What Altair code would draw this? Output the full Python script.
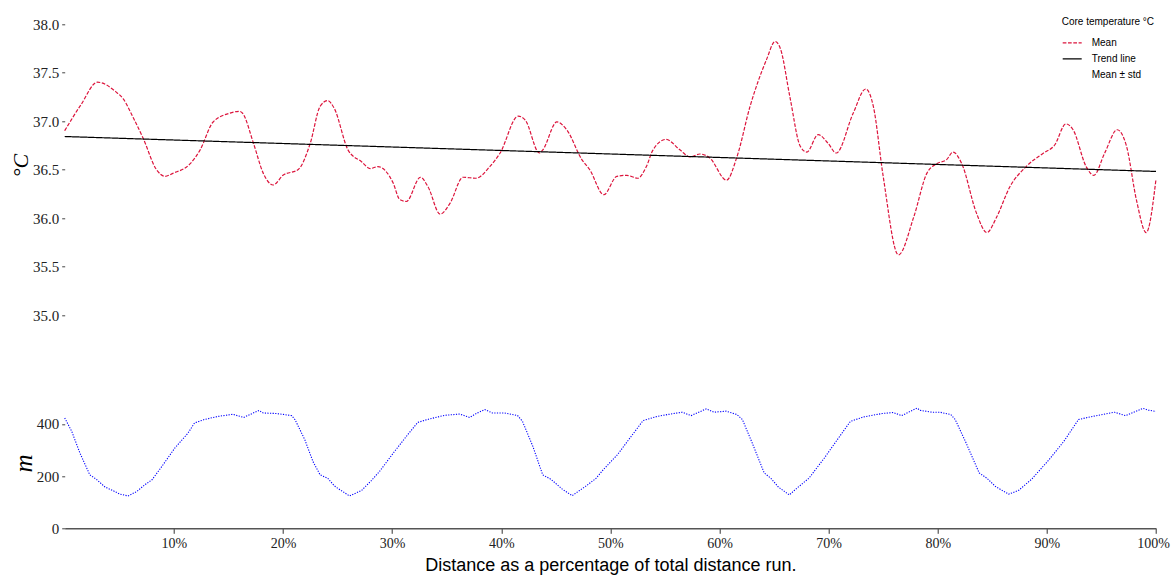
import altair as alt
import pandas as pd

# ---- data ----
series = ["Mean", "Trend line", "Mean ± std"]

pct_mean = [0.0, 1.5, 3.0, 4.7, 5.35, 6.3, 7.2, 8.4, 9.2, 9.9, 11.5, 12.4, 13.6, 15.1, 16.0, 16.3,
            17.3, 18.2, 19.1, 20.0, 21.4, 22.5, 23.4, 24.1, 24.7, 25.97, 27.2, 28.0, 28.7, 30.1,
            30.7, 31.3, 32.6, 33.3, 34.4, 35.3, 36.5, 37.7, 38.95, 39.9, 41.55, 42.2, 43.5, 43.8,
            45.1, 46.0, 47.4, 48.1, 49.4, 50.6, 51.5, 52.5, 53.3, 53.9, 55.1, 56.4, 57.3, 58.2,
            59.1, 60.65, 61.6, 62.8, 64.3, 65.1, 65.6, 66.45, 67.4, 68.0, 69.05, 69.95, 70.7,
            72.25, 73.4, 74.1, 75.0, 76.4, 77.8, 79.0, 79.9, 80.8, 81.4, 82.2, 83.55, 84.5, 85.4,
            86.6, 88.1, 89.7, 90.7, 91.75, 92.4, 93.6, 94.3, 95.3, 96.45, 97.3, 98.2, 99.1, 100.0]
temp_mean = [36.90, 37.17, 37.40, 37.30, 37.23, 37.03, 36.82, 36.50, 36.43, 36.46, 36.56, 36.70,
             36.99, 37.08, 37.10, 37.08, 36.77, 36.46, 36.34, 36.44, 36.50, 36.77, 37.15, 37.21,
             37.13, 36.70, 36.58, 36.51, 36.53, 36.36, 36.19, 36.17, 36.42, 36.32, 36.04, 36.15,
             36.42, 36.41, 36.53, 36.67, 37.05, 37.01, 36.67, 36.70, 36.99, 36.91, 36.60, 36.50,
             36.24, 36.43, 36.44, 36.41, 36.53, 36.70, 36.81, 36.70, 36.63, 36.66, 36.62, 36.39,
             36.63, 37.15, 37.63, 37.82, 37.74, 37.25, 36.74, 36.68, 36.86, 36.77, 36.67, 37.08,
             37.33, 37.15, 36.43, 35.62, 36.01, 36.46, 36.56, 36.60, 36.68, 36.56, 36.05, 35.85,
             36.01, 36.32, 36.53, 36.67, 36.75, 36.97, 36.91, 36.53, 36.44, 36.67, 36.91, 36.74,
             36.19, 35.85, 36.40]

trend_pct = [0.0, 100.0]
trend_temp = [36.84, 36.48]

pct_dist = [0.0, 0.64, 1.4, 2.3, 2.9, 3.7, 4.3, 5.06, 5.8, 6.6, 7.35, 8.0, 8.9, 10.1, 11.3, 11.9,
            12.8, 14.05, 15.4, 16.4, 17.8, 18.2, 19.4, 20.8, 21.1, 22.0, 22.75, 23.4, 24.1, 24.7,
            25.0, 26.1, 27.2, 28.1, 28.85, 30.1, 31.3, 32.35, 33.4, 34.8, 36.2, 37.1, 37.8, 38.5,
            39.2, 40.3, 41.5, 41.95, 42.9, 43.8, 44.55, 45.6, 46.5, 47.8, 48.7, 49.4, 50.65, 51.9,
            53.0, 54.3, 55.5, 56.6, 57.4, 58.1, 58.8, 59.5, 60.6, 61.6, 62.1, 63.0, 64.1, 64.7,
            65.4, 66.4, 67.1, 68.2, 69.6, 70.8, 72.0, 73.2, 74.9, 75.9, 76.7, 78.1, 78.4, 79.5,
            80.2, 81.2, 81.6, 82.6, 83.8, 84.5, 85.3, 86.5, 87.4, 88.6, 90.2, 91.55, 92.9, 94.3,
            96.2, 97.2, 98.8, 99.3, 100.0]
dist_m = [423, 372, 288, 205, 188, 158, 147, 131, 124, 141, 167, 186, 237, 308, 365, 404,
          417, 429, 437, 425, 452, 442, 440, 432, 417, 340, 256, 205, 192, 163,
          154, 124, 145, 183, 218, 288, 352, 406, 419, 433, 438, 425, 442, 455,
          442, 442, 432, 410, 314, 205, 188, 150, 125, 163, 192, 227, 282, 352,
          413, 429, 438, 445, 432, 445, 458, 445, 449, 436, 417, 327, 212, 192,
          158, 128, 154, 192, 269, 340, 410, 427, 440, 444, 432, 461, 452, 445,
          445, 436, 417, 327, 212, 192, 160, 131, 145, 188, 263, 333, 417, 430,
          445, 432, 460, 453, 448]

x_ticks = [10, 20, 30, 40, 50, 60, 70, 80, 90, 100]
temp_ticks = [35.0, 35.5, 36.0, 36.5, 37.0, 37.5, 38.0]
dist_ticks = [0, 200, 400]

temp_df = pd.concat([
    pd.DataFrame({"pct": pct_mean, "temp": temp_mean, "series": "Mean"}),
    pd.DataFrame({"pct": trend_pct, "temp": trend_temp, "series": "Trend line"}),
], ignore_index=True)
dist_df = pd.DataFrame({"pct": pct_dist, "m": dist_m})

# ---- layout ----
W = 1091.3
H = 514
SERIF = "Liberation Serif"
SANS = "Liberation Sans"

x_scale = alt.Scale(domain=[0, 100], nice=False, zero=False)
x_axis = alt.Axis(values=x_ticks, labelExpr="datum.value + '%'", labelFont=SERIF,
                  labelFontSize=14, labelColor="#222", labelFlush=False, labelPadding=3,
                  labelOffset={"condition": {"test": "datum.value == 100", "value": -3},
                               "value": 0},
                  tickSize=5, tickColor="#333", tickWidth=1, domainColor="#555",
                  domainWidth=1.5, grid=False,
                  title="Distance as a percentage of total distance run.",
                  titleFont=SANS, titleFontSize=18, titleFontWeight="normal",
                  titleColor="#000", titlePadding=6)

legend = alt.Legend(orient="none", legendX=997, legendY=3, title="Core temperature °C",
                    titleFont=SANS, titleFontSize=10, titleFontWeight="normal",
                    titleColor="#000", titlePadding=5, labelFont=SANS, labelFontSize=10,
                    labelColor="#000", labelOffset=9, symbolType="stroke", symbolSize=361,
                    symbolStrokeWidth=1.2, rowPadding=0, padding=0)

temp_lines = alt.Chart(temp_df).mark_line(interpolate="monotone", strokeWidth=1.2).encode(
    x=alt.X("pct:Q", scale=x_scale, axis=x_axis),
    y=alt.Y("temp:Q",
            scale=alt.Scale(domain=[35, 38.1], range=[300.7, 0], nice=False, zero=False),
            axis=alt.Axis(values=temp_ticks, format=".1f", orient="left", labelFont=SERIF,
                          labelFontSize=15, labelColor="#222", labelPadding=3, tickSize=3,
                          tickColor="#444", domain=False, grid=False, title="°C",
                          titleFont=SERIF, titleFontSize=22, titleFontStyle="italic",
                          titleFontWeight="normal", titleColor="#000",
                          titleX=-37, titleY=150.7, titleBaseline="alphabetic")),
    color=alt.Color("series:N",
                    scale=alt.Scale(domain=series, range=["crimson", "black", "rgba(0,0,0,0)"]),
                    legend=legend),
    strokeDash=alt.StrokeDash("series:N",
                              scale=alt.Scale(domain=series, range=[[3.7, 1.6], [1, 0], [1, 0]]),
                              legend=legend),
)

dist_line = alt.Chart(dist_df).mark_line(color="#0000ff", strokeWidth=1.1,
                                         strokeDash=[1.2, 1.4]).encode(
    x=alt.X("pct:Q", scale=x_scale, axis=x_axis),
    y=alt.Y("m:Q",
            scale=alt.Scale(domain=[0, 470], range=[H, H - 122.6], nice=False),
            axis=alt.Axis(values=dist_ticks, orient="left", labelFont=SERIF,
                          labelFontSize=15, labelColor="#222", labelPadding=3, tickSize=3,
                          tickColor="#444", domain=False, grid=False, title="m",
                          titleFont=SERIF, titleFontSize=25, titleFontStyle="italic",
                          titleFontWeight="normal", titleColor="#000",
                          titleX=-33, titleY=448.7, titleBaseline="alphabetic")),
)

chart = alt.layer(temp_lines, dist_line).resolve_scale(y="independent").properties(
    width=W, height=H,
    autosize=alt.AutoSizeParams(type="none"),
    padding={"left": 64.7, "top": 14.3, "right": 15, "bottom": 52.7},
    background="white",
).configure_view(stroke=None)

chart.save("out.html", embed_options={"renderer": "svg", "actions": False})
